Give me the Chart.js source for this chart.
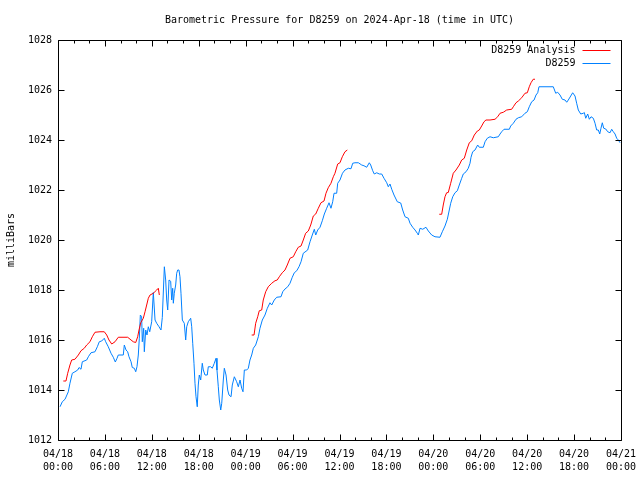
<!DOCTYPE html>
<html>
<head>
<meta charset="utf-8">
<script src="https://cdn.jsdelivr.net/npm/chart.js@4/dist/chart.umd.min.js"></script>
<style>
html,body{margin:0;padding:0;background:#fff;}
canvas{display:block;}
</style>
</head>
<body>
<canvas id="c" width="640" height="480"></canvas>
<script>
// Hours since 2024-04-18 00:00 UTC
const obsHours = [0.26,0.55,0.90,1.32,1.53,1.83,2.17,2.52,2.69,2.94,
3.11,3.67,3.88,4.22,4.73,5.03,5.28,5.59,5.92,6.10,
6.43,6.78,7.07,7.33,7.55,7.71,8.35,8.48,8.70,8.91,
9.08,9.34,9.50,9.76,9.94,10.10,10.27,10.40,10.53,10.70,
10.78,10.96,11.04,11.22,11.38,11.55,11.73,11.98,12.19,12.41,
12.62,12.92,13.17,13.34,13.60,13.77,13.90,14.03,14.20,14.41,
14.54,14.67,14.75,14.87,15.05,15.18,15.31,15.47,15.60,15.73,
15.90,16.15,16.33,16.46,16.66,16.97,17.10,17.23,17.39,17.52,
17.65,17.81,17.94,18.07,18.25,18.45,18.58,18.80,19.09,19.22,
19.53,19.73,19.99,20.21,20.33,20.50,20.63,20.81,20.94,21.14,
21.27,21.49,21.70,21.87,22.13,22.29,22.55,22.85,23.06,23.28,
23.49,23.66,23.83,24.13,24.34,24.55,24.77,24.98,25.28,25.62,
25.83,26.13,26.47,26.77,27.11,27.33,27.66,27.97,28.52,28.74,
29.03,29.38,29.67,29.96,30.22,30.53,30.82,31.08,31.37,31.93,
32.23,32.52,32.78,32.96,33.21,33.51,33.80,34.06,34.36,34.66,
34.91,35.13,35.30,35.64,35.77,36.06,36.38,36.70,37.13,37.47,
37.69,37.98,38.41,38.84,39.13,39.48,39.81,39.99,40.25,40.45,
40.76,41.09,41.40,41.69,42.04,42.24,42.46,42.68,42.97,43.39,
43.83,44.08,44.38,44.80,45.02,45.36,45.66,45.95,46.08,46.30,
46.64,47.06,47.36,47.79,48.21,48.85,49.15,49.49,49.79,50.04,
50.22,50.48,50.77,51.07,51.32,51.63,51.83,52.18,52.47,52.69,
52.82,53.03,53.33,53.67,53.88,54.39,54.61,54.90,55.25,55.67,
56.31,56.53,56.74,57.04,57.72,57.89,58.23,58.57,58.87,59.30,
59.72,60.02,60.27,60.58,60.88,61.13,61.35,61.51,63.34,63.65,
63.90,64.20,64.49,64.84,65.06,65.26,65.57,65.82,66.12,66.33,
66.54,66.85,67.18,67.31,67.49,67.74,67.95,68.17,68.46,68.68,
68.89,69.10,69.28,69.44,69.61,69.79,70.05,70.30,70.60,70.81,
71.02,71.24,71.45,71.66,71.88];

const obsValues = [1013.33,1013.53,1013.63,1013.93,1014.27,1014.67,1014.73,1014.8,1014.9,1014.83,
1015.13,1015.2,1015.33,1015.49,1015.53,1015.73,1015.93,1015.96,1016.07,1015.93,
1015.73,1015.47,1015.31,1015.12,1015.27,1015.4,1015.4,1015.8,1015.6,1015.53,
1015.33,1015.13,1014.9,1014.87,1014.73,1014.93,1015.4,1016.07,1017.0,1016.93,
1015.93,1016.47,1015.53,1016.4,1016.2,1016.53,1016.33,1016.73,1017.9,1016.8,
1016.67,1016.53,1016.4,1016.9,1018.93,1018.4,1017.6,1017.2,1018.4,1018.35,
1017.6,1018.07,1017.47,1017.87,1018.2,1018.67,1018.8,1018.8,1018.53,1017.87,
1016.8,1016.67,1016.0,1016.53,1016.73,1016.87,1016.53,1015.87,1015.07,1014.27,
1013.73,1013.33,1014.2,1014.6,1014.4,1015.07,1014.8,1014.6,1014.6,1014.93,
1014.93,1014.87,1015.07,1015.27,1014.8,1014.13,1013.6,1013.2,1013.47,1014.4,
1014.87,1014.6,1014.0,1013.8,1013.73,1014.2,1014.53,1014.33,1014.13,1014.4,
1014.07,1013.93,1014.8,1014.8,1014.87,1015.2,1015.4,1015.67,1015.8,1016.13,
1016.47,1016.8,1017.0,1017.27,1017.49,1017.4,1017.6,1017.71,1017.73,1017.93,
1018.04,1018.13,1018.27,1018.51,1018.69,1018.77,1018.93,1019.13,1019.47,1019.6,
1019.93,1020.2,1020.43,1020.2,1020.4,1020.51,1020.77,1021.04,1021.27,1021.49,
1021.27,1021.53,1021.87,1021.87,1022.27,1022.4,1022.67,1022.8,1022.87,1022.85,
1023.07,1023.09,1023.09,1023.0,1022.97,1022.91,1023.09,1023.0,1022.77,1022.64,
1022.69,1022.64,1022.64,1022.47,1022.29,1022.13,1022.24,1022.03,1021.8,1021.53,
1021.48,1021.2,1020.93,1020.87,1020.67,1020.51,1020.4,1020.27,1020.2,1020.47,
1020.43,1020.51,1020.36,1020.2,1020.13,1020.11,1020.33,1020.56,1020.83,1021.2,
1021.47,1021.73,1021.89,1021.97,1022.2,1022.47,1022.64,1022.73,1022.87,1023.07,
1023.31,1023.53,1023.6,1023.8,1023.71,1023.71,1023.93,1024.07,1024.13,1024.09,
1024.13,1024.24,1024.33,1024.43,1024.43,1024.56,1024.67,1024.83,1024.89,1024.93,
1025.07,1025.13,1025.33,1025.53,1025.6,1025.8,1025.89,1026.13,1026.13,1025.87,
1025.91,1025.8,1025.63,1025.6,1025.51,1025.6,1025.76,1025.89,1025.76,1025.47,
1025.2,1025.04,1025.07,1025.1,1024.87,1025.04,1024.83,1024.93,1024.87,1024.67,
1024.4,1024.4,1024.24,1024.47,1024.69,1024.47,1024.44,1024.33,1024.29,1024.43,
1024.33,1024.24,1024.07,1024.0,1023.89];

const anaHours = [0.68,1.02,1.24,1.53,1.75,2.17,2.60,2.94,3.36,3.67,
4.09,4.39,4.73,5.37,5.92,6.23,6.52,6.87,7.29,7.71,
8.91,9.34,9.63,9.94,10.19,10.36,10.58,10.91,11.13,11.34,
11.55,11.77,12.19,12.62,12.83,12.96,
18,
24.77,25.07,25.28,25.54,25.74,26.05,26.25,26.56,26.89,27.33,
27.75,28.04,28.30,28.68,29.03,29.32,29.67,30.09,30.40,30.73,
31.08,31.37,31.67,32.01,32.32,32.65,32.96,33.29,33.63,34.02,
34.27,34.56,34.91,35.21,35.42,35.77,36.06,36.36,36.70,37.00,
42,
48.76,49.07,49.27,49.49,49.70,49.91,50.22,50.55,50.90,51.32,
51.63,51.96,52.27,52.60,52.91,53.24,53.63,53.88,54.18,54.48,
54.73,55.25,55.89,56.23,56.53,56.95,57.38,58.02,58.23,58.57,
58.87,59.30,59.72,60.02,60.27,60.49,60.77,61.0];

const anaValues = [1014.36,1014.36,1014.67,1015.0,1015.2,1015.23,1015.4,1015.57,1015.67,1015.8,
1015.93,1016.13,1016.31,1016.33,1016.33,1016.2,1016.0,1015.84,1015.93,1016.11,
1016.11,1016.0,1015.93,1015.9,1016.13,1016.4,1016.69,1016.87,1017.13,1017.4,
1017.67,1017.8,1017.87,1018.0,1018.07,1017.8,
null,
1016.2,1016.2,1016.67,1016.93,1017.17,1017.2,1017.6,1017.93,1018.13,1018.27,
1018.37,1018.4,1018.53,1018.69,1018.8,1019.0,1019.27,1019.33,1019.53,1019.71,
1019.76,1020.0,1020.27,1020.36,1020.6,1020.96,1021.04,1021.27,1021.49,1021.56,
1021.87,1022.09,1022.27,1022.53,1022.67,1023.04,1023.09,1023.33,1023.53,1023.6,
null,
1021.03,1021.03,1021.4,1021.73,1021.89,1021.9,1022.27,1022.67,1022.8,1023.0,
1023.2,1023.27,1023.6,1023.89,1023.97,1024.2,1024.36,1024.4,1024.56,1024.73,
1024.8,1024.8,1024.83,1024.93,1025.07,1025.11,1025.2,1025.23,1025.33,1025.49,
1025.56,1025.69,1025.87,1025.89,1026.13,1026.29,1026.43,1026.43];

const xTickLabels = [["04/18","00:00"],["04/18","06:00"],["04/18","12:00"],["04/18","18:00"],
["04/19","00:00"],["04/19","06:00"],["04/19","12:00"],["04/19","18:00"],
["04/20","00:00"],["04/20","06:00"],["04/20","12:00"],["04/20","18:00"],["04/21","00:00"]];
const yTickValues = [1012,1014,1016,1018,1020,1022,1024,1026,1028];
const seriesNames = ["D8259 Analysis","D8259"];
const titleText = "Barometric Pressure for D8259 on 2024-Apr-18 (time in UTC)";
const yAxisTitle = "milliBars";

const RED = "rgb(255,0,0)";
const BLUE = "rgb(0,128,255)";
const FONT = "'DejaVu Sans Mono', 'Liberation Mono', monospace";

Chart.defaults.font.family = FONT;
Chart.defaults.font.size = 10;
Chart.defaults.color = "#000";

const toPts = (hs, vs) => hs.map((h, i) => ({x: h, y: vs[i]}));

const framePlugin = {
  id: "frame",
  afterDraw(chart) {
    const ctx = chart.ctx, a = chart.chartArea;
    const xs = chart.scales.x, ys = chart.scales.y;
    ctx.save();
    ctx.strokeStyle = "#000";
    ctx.lineWidth = 1;
    const L = Math.round(a.left) + 0.5, R = Math.round(a.right) + 0.5;
    const T = Math.round(a.top) + 0.5, B = Math.round(a.bottom) + 0.5;
    ctx.beginPath();
    ctx.rect(L, T, R - L, B - T);
    ctx.stroke();
    ctx.beginPath();
    for (let h = 0; h <= 72; h += 2) {
      const px = Math.round(xs.getPixelForValue(h)) + 0.5;
      const len = (h % 6 === 0) ? 6 : 3;
      ctx.moveTo(px, B); ctx.lineTo(px, B - len);
      ctx.moveTo(px, T); ctx.lineTo(px, T + len);
    }
    yTickValues.forEach(v => {
      const py = Math.round(ys.getPixelForValue(v)) + 0.5;
      ctx.moveTo(L, py); ctx.lineTo(L + 6, py);
      ctx.moveTo(R, py); ctx.lineTo(R - 6, py);
    });
    ctx.stroke();

    // title
    ctx.fillStyle = "#000";
    ctx.font = "10px " + FONT;
    ctx.textAlign = "center";
    ctx.textBaseline = "middle";
    ctx.fillText(titleText, (a.left + a.right) / 2, 20);

    // y axis title
    ctx.save();
    ctx.translate(11, (a.top + a.bottom) / 2);
    ctx.rotate(-Math.PI / 2);
    ctx.textAlign = "center";
    ctx.textBaseline = "middle";
    ctx.fillText(yAxisTitle, 0, 0);
    ctx.restore();

    // legend (text left of sample line)
    const cols = [RED, BLUE];
    seriesNames.forEach((name, i) => {
      const yy = T + 9.5 + i * 13;
      ctx.textAlign = "right";
      ctx.textBaseline = "middle";
      ctx.fillStyle = "#000";
      ctx.fillText(name, R - 46, yy);
      ctx.strokeStyle = cols[i];
      ctx.beginPath();
      ctx.moveTo(R - 39, Math.round(yy) + 0.5);
      ctx.lineTo(R - 11, Math.round(yy) + 0.5);
      ctx.stroke();
    });
    ctx.restore();
  }
};

new Chart(document.getElementById("c"), {
  type: "line",
  data: {
    datasets: [
      {label: seriesNames[0], data: toPts(anaHours, anaValues), borderColor: RED, borderWidth: 1, pointRadius: 0, tension: 0, spanGaps: false},
      {label: seriesNames[1], data: toPts(obsHours, obsValues), borderColor: BLUE, borderWidth: 1, pointRadius: 0, tension: 0}
    ]
  },
  options: {
    responsive: false,
    animation: false,
    devicePixelRatio: 1,
    layout: {padding: {left: 0, right: 19, top: 40, bottom: 0}},
    plugins: {legend: {display: false}, title: {display: false}, tooltip: {enabled: false}},
    scales: {
      x: {
        type: "linear", min: 0, max: 72,
        grid: {display: false, drawTicks: false},
        border: {display: false},
        ticks: {
          stepSize: 6, autoSkip: false, maxRotation: 0, padding: 8,
          font: {size: 10, lineHeight: 1.3},
          callback: (v) => xTickLabels[Math.round(v / 6)]
        },
        afterFit: (s) => { s.height = 40; s.paddingLeft = 0; s.paddingRight = 0; }
      },
      y: {
        min: 1012, max: 1028,
        grid: {display: false, drawTicks: false},
        border: {display: false},
        afterBuildTicks: (s) => { s.ticks = yTickValues.map(v => ({value: v})); },
        ticks: {padding: 6, font: {size: 10}, callback: (v) => String(v)},
        afterFit: (s) => { s.width = 58; s.paddingTop = 0; s.paddingBottom = 0; }
      }
    }
  },
  plugins: [framePlugin]
});
</script>
</body>
</html>
